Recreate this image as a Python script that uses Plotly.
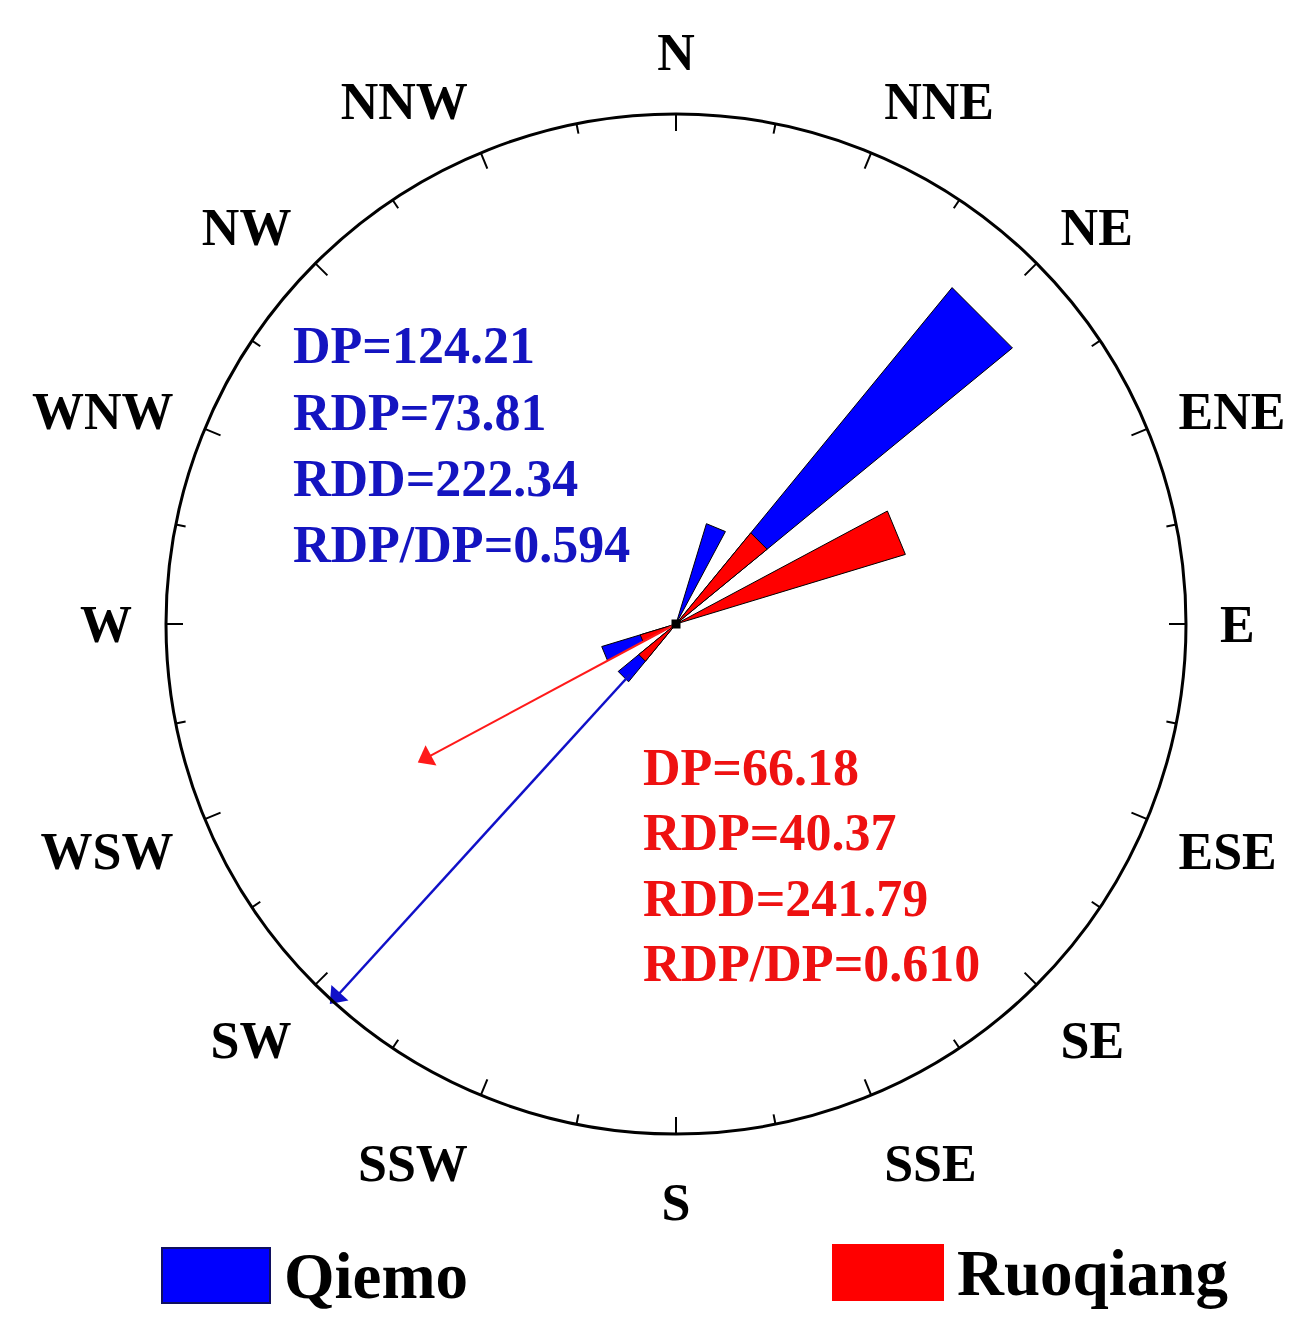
import plotly.graph_objects as go

# ---------------- data ----------------
directions = ["N", "NNE", "NE", "ENE", "E", "ESE", "SE", "SSE",
              "S", "SSW", "SW", "WSW", "W", "WNW", "NW", "NNW"]
dir_angles = [i * 22.5 for i in range(16)]
qiemo_dp = [0, 18.5, 76.8, 0, 0, 0, 0, 0, 0, 0, 13.2, 13.7, 0, 0, 0, 0]
ruoqiang_dp = [0, 0, 20.8, 42.3, 0, 0, 0, 0, 0, 0, 8.5, 6.6, 0, 0, 0, 0]

# resultant drift (arrow) : direction, start radius, end radius
qiemo_rdd = 222.34
qiemo_arrow_r = [12.0, 90.0]
ruoqiang_rdd = 241.79
ruoqiang_arrow_r = [0.0, 51.0]

qiemo_text = ["DP=124.21", "RDP=73.81", "RDD=222.34", "RDP/DP=0.594"]
ruoqiang_text = ["DP=66.18", "RDP=40.37", "RDD=241.79", "RDP/DP=0.610"]

R_MAX = 90.0
SECTOR = 11.25

BLUE = "#0000FF"
RED = "#FF0000"
BLUE_TXT = "#1414C0"
RED_TXT = "#EE1111"
FONT = "Liberation Serif"

OFF = 8                      # page body margin
W, H = 1303 - OFF, 1332 - OFF
cx, cy, rad = 676 - OFF, 624 - OFF, 510
PXU = rad / R_MAX            # pixels per radial unit


def px(x):
    return (x - OFF) / W


def py(y):
    return 1 - (y - OFF) / H


def wedges(vals):
    rr, tt = [], []
    for a, v in zip(dir_angles, vals):
        if v <= 0:
            continue
        rr += [0, v, v, 0, None]
        tt += [a, a - SECTOR / 2, a + SECTOR / 2, a, None]
    return rr, tt


fig = go.Figure()

for vals, col in [(qiemo_dp, BLUE), (ruoqiang_dp, RED)]:
    rr, tt = wedges(vals)
    fig.add_trace(go.Scatterpolar(r=rr, theta=tt, mode="lines", fill="toself",
                                  fillcolor=col, line=dict(color="black", width=1),
                                  showlegend=False, hoverinfo="skip"))

# ticks: major at the 16 directions, minor halfway between
tick_r, tick_t = [], []
for a in dir_angles:
    tick_r += [R_MAX - 17 / PXU, R_MAX, None]
    tick_t += [a, a, None]
    tick_r += [R_MAX - 10 / PXU, R_MAX, None]
    tick_t += [a + SECTOR, a + SECTOR, None]
fig.add_trace(go.Scatterpolar(r=tick_r, theta=tick_t, mode="lines",
                              line=dict(color="black", width=2),
                              showlegend=False, hoverinfo="skip"))

# resultant drift arrows
for rdd, rr, col, lw in [(qiemo_rdd, qiemo_arrow_r, "#1010C8", 2.5),
                         (ruoqiang_rdd, ruoqiang_arrow_r, "#FF1A1A", 2)]:
    fig.add_trace(go.Scatterpolar(r=rr, theta=[rdd, rdd], mode="lines",
                                  line=dict(color=col, width=lw),
                                  showlegend=False, hoverinfo="skip", cliponaxis=False))
    fig.add_trace(go.Scatterpolar(r=[rr[1] - 6 / PXU], theta=[rdd], mode="markers",
                                  marker=dict(symbol="triangle-up", size=20, color=col,
                                              angle=rdd, angleref="up",
                                              line=dict(width=0)),
                                  showlegend=False, hoverinfo="skip", cliponaxis=False))

# center point
fig.add_trace(go.Scatterpolar(r=[0], theta=[0], mode="markers",
                              marker=dict(symbol="square", size=9, color="black"),
                              showlegend=False, hoverinfo="skip"))

fig.update_layout(
    width=W, height=H,
    margin=dict(l=0, r=0, t=0, b=0),
    paper_bgcolor="white",
    polar=dict(
        domain=dict(x=[(cx - rad) / W, (cx + rad) / W],
                    y=[1 - (cy + rad) / H, 1 - (cy - rad) / H]),
        bgcolor="white",
        radialaxis=dict(range=[0, R_MAX], visible=False),
        angularaxis=dict(
            rotation=90, direction="clockwise",
            tickmode="array", tickvals=dir_angles, ticktext=directions,
            ticks="outside", ticklen=22, tickcolor="rgba(0,0,0,0)",
            showline=True, linecolor="black", linewidth=3,
            showgrid=False,
            tickfont=dict(family=FONT, size=52, color="black", weight="bold"),
        ),
    ),
)

for i, t in enumerate(qiemo_text):
    fig.add_annotation(x=px(291), y=py(346 + 66 * i), xref="paper", yref="paper",
                       text=t, showarrow=False, xanchor="left", yanchor="middle",
                       font=dict(family=FONT, size=52, color=BLUE_TXT, weight="bold"))
for i, t in enumerate(ruoqiang_text):
    fig.add_annotation(x=px(641), y=py(767 + 65.5 * i), xref="paper", yref="paper",
                       text=t, showarrow=False, xanchor="left", yanchor="middle",
                       font=dict(family=FONT, size=52, color=RED_TXT, weight="bold"))

# legend
legend_items = [("Qiemo", BLUE, "#101060", 162, 270, 1248, 1303, 282),
                ("Ruoqiang", RED, RED, 833, 943, 1245, 1300, 955)]
for name, col, lc, x0, x1, y0, y1, tx in legend_items:
    fig.add_shape(type="rect", xref="paper", yref="paper",
                  x0=px(x0), x1=px(x1), y0=py(y1), y1=py(y0),
                  fillcolor=col, line=dict(color=lc, width=2))
    fig.add_annotation(x=px(tx), y=py((y0 + y1) / 2), xref="paper", yref="paper",
                       text=name, showarrow=False, xanchor="left", yanchor="middle",
                       font=dict(family=FONT, size=65, color="black", weight="bold"))

fig.write_html("out.html")
